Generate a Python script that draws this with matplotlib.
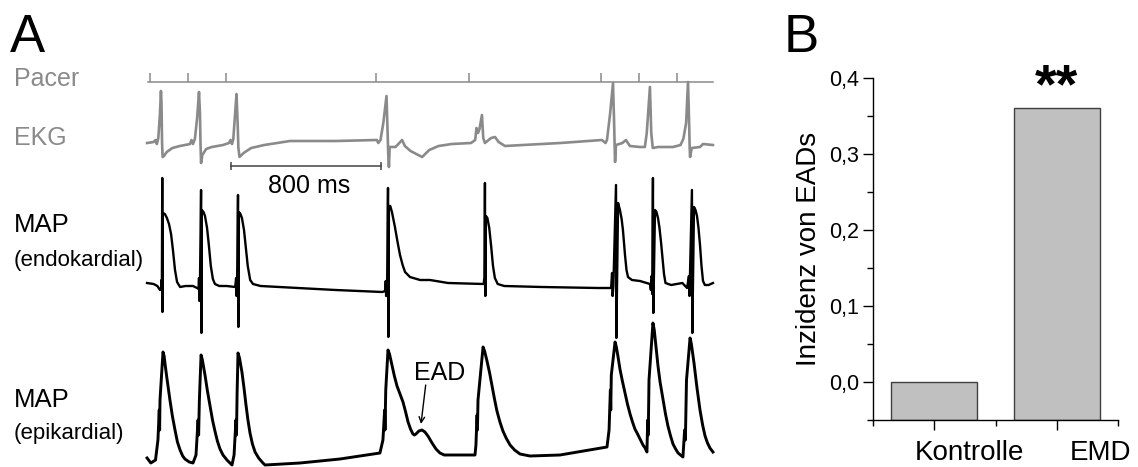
import numpy as np
import matplotlib
matplotlib.use('Agg')
import matplotlib.pyplot as plt
from matplotlib.ticker import FuncFormatter, MultipleLocator

plt.rcParams['font.family'] = ['Liberation Sans', 'DejaVu Sans']

W, H = 1138, 467

# ---- panel A data: time in ms, amplitude in arbitrary units ----
pacer_times = [11, 213, 416, 1216, 1712, 2416, 2619, 2821]

ekg = [(-5, 0), (30, 1), (40, 3), (47, -1), (55, 5), (64, 30), (69, 52), (72, 40), (75, 0),
       (78, -14), (85, -13), (100, -9), (130, -5), (170, -3), (224, -1), (232, 3), (240, -1),
       (250, 4), (262, 25), (272, 51), (277, 30), (280, 0), (283, -20), (290, -12), (310, -6),
       (340, -4), (400, -2), (432, 0), (440, 3), (448, -1), (455, 4), (464, 28), (472, 49),
       (478, 20), (482, -5), (488, -14), (510, -10), (550, -5), (620, -2), (757, 2), (1000, 2),
       (1221, 3), (1228, 0), (1240, 3), (1255, 20), (1272, 47), (1278, 10), (1281, -10),
       (1285, -24), (1289, -4), (1320, -4), (1355, 3), (1370, -3), (1400, -8), (1462, -14),
       (1500, -7), (1550, -3), (1620, -1), (1723, 0), (1745, 3), (1752, 15), (1760, 10),
       (1768, 14), (1781, 28), (1788, 5), (1797, 0), (1830, 5), (1851, 6), (1870, 1),
       (1904, -3), (2000, -2), (2200, 0), (2421, 3), (2440, 0), (2448, 3), (2465, 30),
       (2480, 60), (2486, 20), (2489, -5), (2491, -19), (2496, -2), (2530, 0), (2549, 3),
       (2570, -3), (2624, -4), (2650, -4), (2660, 10), (2677, 56), (2684, 10), (2692, -5),
       (2720, -4), (2800, -4), (2840, -2), (2855, 4), (2870, 20), (2880, 61), (2886, 20),
       (2889, -5), (2891, -14), (2900, -5), (2944, -4), (2960, -1), (3013, -2)]

map_endo = [(-5, 3), (30, 2), (50, 0), (64, -4), (70, -2), (72, 6), (74, -2), (76, 108),
            (77, -26), (79, 73), (90, 72), (101, 68), (112, 62), (123, 52), (133, 36),
            (144, 16), (155, 4), (171, -1), (200, 0), (240, 0), (262, -2), (270, -3), (272, 8),
            (274, -15), (277, 0), (283, 96), (285, -47), (287, 76), (296, 74), (304, 70),
            (315, 58), (325, 40), (335, 20), (346, 7), (357, 2), (380, 0), (420, 0), (465, -1),
            (470, 8), (472, -10), (475, 0), (480, 91), (482, -41), (485, 74), (493, 72),
            (501, 68), (512, 56), (522, 38), (532, 20), (545, 6), (560, 2), (600, 0), (800, -2),
            (1000, -4), (1250, -6), (1265, -5), (1268, 5), (1270, -10), (1275, -6), (1280, 98),
            (1282, -51), (1285, 80), (1292, 80), (1301, 74), (1317, 59), (1330, 45), (1344, 31),
            (1358, 21), (1371, 14), (1397, 9), (1451, 6), (1504, 6), (1600, 3), (1790, 2),
            (1794, 8), (1797, 103), (1799, -10), (1802, 70), (1810, 68), (1820, 58), (1830, 40),
            (1840, 20), (1850, 8), (1865, 2), (1900, 0), (2100, -1), (2400, -2), (2470, -2),
            (2475, 13), (2478, -10), (2482, 0), (2496, 101), (2498, -52), (2507, 83),
            (2517, 76), (2526, 67), (2533, 56), (2544, 31), (2552, 16), (2560, 9), (2581, 6),
            (2624, 5), (2677, 2), (2682, -4), (2686, 10), (2689, -8), (2693, 108), (2695, -27),
            (2704, 76), (2712, 74), (2720, 68), (2728, 58), (2736, 44), (2745, 26), (2752, 12),
            (2760, 3), (2790, 1), (2850, 3), (2875, -2), (2885, 10), (2888, -10), (2901, 96),
            (2903, -47), (2912, 79), (2920, 76), (2928, 70), (2936, 58), (2944, 41), (2952, 20),
            (2960, 5), (2970, 1), (2990, 1), (3013, 3)]

map_epi = [(-5, 2), (15, -3), (40, 0), (53, 20), (60, 50), (62, 30), (64, 60), (80, 108),
           (86, 104), (91, 96), (100, 83), (117, 60), (130, 44), (144, 30), (157, 18),
           (171, 10), (185, 4), (197, 1), (220, -2), (240, -3), (256, 5), (267, 40), (270, 25),
           (274, 60), (283, 105), (290, 100), (304, 85), (317, 69), (331, 54), (344, 40),
           (357, 29), (370, 19), (384, 11), (400, 5), (421, 0), (448, -5), (459, 5), (469, 40),
           (472, 25), (475, 65), (480, 107), (488, 102), (501, 88), (512, 72), (522, 56),
           (533, 40), (544, 27), (557, 16), (571, 8), (590, 2), (613, -3), (624, -5), (811, -3),
           (1024, 1), (1237, 7), (1253, 20), (1262, 50), (1264, 30), (1268, 70), (1280, 110),
           (1288, 106), (1301, 95), (1314, 84), (1328, 74), (1344, 66), (1360, 58), (1374, 48),
           (1387, 38), (1400, 31), (1413, 26), (1421, 25), (1429, 26), (1445, 29), (1461, 30),
           (1477, 28), (1493, 24), (1515, 17), (1536, 11), (1557, 7), (1580, 5), (1611, 5),
           (1744, 5), (1749, 15), (1755, 45), (1757, 30), (1760, 60), (1787, 113), (1795, 109),
           (1808, 99), (1822, 87), (1835, 74), (1848, 61), (1861, 49), (1877, 38), (1893, 29),
           (1910, 22), (1931, 15), (1955, 10), (1984, 6), (2037, 4), (2197, 5), (2448, 13),
           (2459, 30), (2466, 70), (2468, 50), (2471, 85), (2491, 118), (2498, 113), (2507, 103),
           (2517, 91), (2530, 79), (2544, 67), (2557, 56), (2571, 46), (2584, 38), (2597, 31),
           (2611, 26), (2624, 21), (2640, 15), (2651, 12), (2661, 8), (2665, 40), (2668, 25),
           (2672, 80), (2693, 137), (2700, 130), (2709, 114), (2720, 94), (2731, 78), (2747, 60),
           (2760, 46), (2773, 34), (2787, 24), (2800, 16), (2814, 11), (2827, 7), (2853, 3),
           (2862, 30), (2866, 20), (2872, 80), (2891, 122), (2898, 116), (2912, 97),
           (2928, 72), (2944, 50), (2958, 35), (2971, 24), (2984, 17), (2997, 12), (3013, 8)]

ead_time, ead_amp = 1461, 30

# ---- panel B data ----
groups = ['Kontrolle', 'EMD']
incidence = [0.0, 0.36]
yticks_b = [0.0, 0.1, 0.2, 0.3, 0.4]


def fx(px):
    return px / W


def fy(py):
    return 1 - py / H


GRAY = '#8a8a8a'
fig = plt.figure(figsize=(W / 100, H / 100), dpi=100)

# ---------------- panel A ----------------
ms_per_px = 800 / 150
ax = fig.add_axes([fx(140), 0, fx(720) - fx(140), fy(60)])
ax.set_xlim((140 - 148) * ms_per_px, (720 - 148) * ms_per_px)
ax.set_ylim(0, H - 60)
ax.axis('off')

pacer_y, ekg_y, endo_y, epi_y = 385, 324, 181, 7

ax.plot([0, 3013], [pacer_y, pacer_y], color=GRAY, lw=1.1)
ax.vlines(pacer_times, pacer_y, pacer_y + 9, color=GRAY, lw=1.1)

t, v = np.array(ekg).T
ax.plot(t, v + ekg_y, color=GRAY, lw=1.9, solid_joinstyle='round')
t, v = np.array(map_endo).T
ax.plot(t, v + endo_y, color='black', lw=1.7, solid_joinstyle='round')
t, v = np.array(map_epi).T
ax.plot(t, v + epi_y, color='black', lw=2.1, solid_joinstyle='round')

# 800 ms scale bar
sb0, sb_y = (231 - 148) * ms_per_px, 301
ax.plot([sb0, sb0 + 800], [sb_y, sb_y], color='#444444', lw=1.1)
ax.vlines([sb0, sb0 + 800], sb_y - 4, sb_y + 4, color='#444444', lw=1.1)
ax.text(sb0 + 800 / 2 + 15, sb_y - 27, '800 ms', fontsize=18, ha='center', va='baseline')

# EAD label with arrow
ax.text(ead_time + 95, ead_amp + epi_y + 50, 'EAD', fontsize=18, ha='center', va='baseline')
ax.annotate('', xy=(ead_time - 5, ead_amp + epi_y + 6), xytext=(ead_time + 20, ead_amp + epi_y + 45),
            arrowprops=dict(arrowstyle='->', color='black', lw=1.0, shrinkA=0, shrinkB=0))

fig.text(fx(10), fy(52), 'A', fontsize=38, va='baseline')
fig.text(fx(14), fy(86), 'Pacer', fontsize=18, color=GRAY, va='baseline')
fig.text(fx(14), fy(145), 'EKG', fontsize=18, color=GRAY, va='baseline')
fig.text(fx(14), fy(232), 'MAP', fontsize=18.5, va='baseline')
fig.text(fx(14), fy(266), '(endokardial)', fontsize=16, va='baseline')
fig.text(fx(14), fy(407), 'MAP', fontsize=18.5, va='baseline')
fig.text(fx(14), fy(439), '(epikardial)', fontsize=16, va='baseline')

# ---------------- panel B ----------------
ymin = -0.05
axb = fig.add_axes([fx(873), fy(420), fx(1118) - fx(873), fy(78) - fy(420)])
xb = np.arange(len(groups))
axb.bar(xb, np.array(incidence) - ymin, bottom=ymin, width=0.7,
        color='#c0c0c0', edgecolor='#404040', lw=1.0)
axb.set_xlim(-0.5, 1.5)
axb.set_ylim(ymin, 0.4)
for s in ('top', 'right'):
    axb.spines[s].set_visible(False)
for s in ('left', 'bottom'):
    axb.spines[s].set_linewidth(1.0)
axb.set_yticks(yticks_b)
axb.yaxis.set_minor_locator(MultipleLocator(0.05))
axb.yaxis.set_major_formatter(FuncFormatter(lambda y, p: f'{y:.1f}'.replace('.', ',')))
axb.set_xticks(xb)
axb.set_xticklabels([])
axb.xaxis.set_minor_locator(MultipleLocator(0.5))
axb.tick_params(which='major', direction='out', length=7, width=1.0, labelsize=15.5, pad=3)
axb.tick_params(which='minor', direction='out', length=4, width=1.0)
# category labels sit offset to the right of their ticks, as in the original
for i, (g, dx) in enumerate(zip(groups, [0.29, 0.355])):
    axb.text(i + dx, -0.103, g, fontsize=20, ha='center', va='baseline', clip_on=False)
axb.set_ylabel('Inzidenz von EADs', fontsize=20, labelpad=5)
axb.text(1, incidence[1] + 0.008, '**', fontsize=40, fontweight='bold', ha='center',
         va='baseline', clip_on=False)

fig.text(fx(784), fy(52), 'B', fontsize=38, va='baseline')

fig.savefig('out.png', dpi=100)
